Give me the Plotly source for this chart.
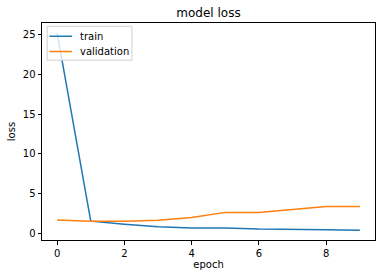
import plotly.graph_objects as go

epochs = list(range(10))
train_loss = [25.2, 1.55, 1.17, 0.85, 0.7, 0.7, 0.55, 0.47, 0.47, 0.42]
val_loss = [1.7, 1.54, 1.54, 1.65, 2.0, 2.65, 2.65, 3.0, 3.38, 3.38]
x_ticks = [0, 2, 4, 6, 8]
y_ticks = [0, 5, 10, 15, 20, 25]
series_names = ["train", "validation"]
series_colors = ["#1f77b4", "#ff7f0e"]

W, H = 382, 278
ML, MR, MT, MB = 41.5, 6.5, 22.7, 37.7
PW, PH = W - ML - MR, H - MT - MB


def px_x(p):
    return (p - ML) / PW


def px_y(p):
    return 1 - (p - MT) / PH


fig = go.Figure()
for name, ys, col in zip(series_names, [train_loss, val_loss], series_colors):
    fig.add_trace(go.Scatter(x=epochs, y=ys, mode="lines", name=name,
                             line=dict(color=col, width=1.5), showlegend=False))

font = "DejaVu Sans"
axis_common = dict(showgrid=False, zeroline=False, showline=True, linecolor="black",
                   linewidth=1, mirror=True, ticks="outside", ticklen=3.5, tickwidth=1,
                   tickcolor="black", automargin=False,
                   tickfont=dict(family=font, size=10, color="black"))
ymin, ymax = min(train_loss + val_loss), max(train_loss + val_loss)
pad = 0.05 * (ymax - ymin)

# legend box (drawn manually to match matplotlib spacing)
shapes = [dict(type="rect", xref="paper", yref="paper", layer="above",
               x0=px_x(46.7), x1=px_x(131.7), y0=px_y(60), y1=px_y(26),
               fillcolor="rgba(255,255,255,0.8)", line=dict(color="#d0d0d0", width=1))]
annotations = []
row_y = [36, 51.3]
for name, col, ry in zip(series_names, series_colors, row_y):
    shapes.append(dict(type="line", xref="paper", yref="paper", layer="above",
                       x0=px_x(49), x1=px_x(71.7), y0=px_y(ry), y1=px_y(ry),
                       line=dict(color=col, width=1.5)))
    annotations.append(dict(text=name, xref="paper", yref="paper", x=px_x(77.5), y=px_y(ry),
                            xanchor="left", yanchor="middle", showarrow=False,
                            font=dict(family=font, size=10, color="black")))

fig.update_layout(
    width=W, height=H,
    margin=dict(l=ML, r=MR, t=MT, b=MB),
    paper_bgcolor="white", plot_bgcolor="white",
    title=dict(text="model loss", xref="paper", x=0.5, xanchor="center",
               yref="container", y=1 - 13 / H, yanchor="middle",
               font=dict(family=font, size=12, color="black")),
    xaxis=dict(range=[-0.45, 9.45], tickvals=x_ticks,
               title=dict(text="epoch", font=dict(family=font, size=10, color="black"), standoff=3),
               **axis_common),
    yaxis=dict(range=[ymin - pad, ymax + pad], tickvals=y_ticks,
               title=dict(text="loss", font=dict(family=font, size=10, color="black"), standoff=5),
               **axis_common),
    shapes=shapes,
    annotations=annotations,
    showlegend=False,
)
fig.write_html("out.html", config={"displayModeBar": False},
               post_script="document.body.style.margin='0px';")
